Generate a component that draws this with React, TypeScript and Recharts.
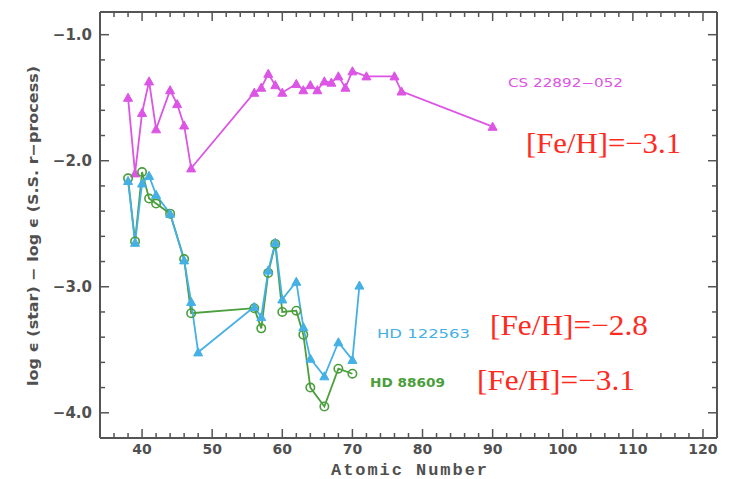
import React from 'react';
import { LineChart, Line, XAxis, YAxis } from 'recharts';

// CS 22892-052
const csZ = [38, 39, 40, 41, 42, 44, 45, 46, 47, 56, 57, 58, 59, 60, 62, 63, 64, 65, 66, 67, 68, 69, 70, 72, 76, 77, 90];
const csVal = [-1.50, -2.10, -1.62, -1.37, -1.75, -1.44, -1.55, -1.72, -2.06, -1.46, -1.42, -1.31, -1.40, -1.46, -1.39, -1.44, -1.40, -1.44, -1.37, -1.38, -1.33, -1.42, -1.29, -1.33, -1.33, -1.45, -1.73];

// HD 122563
const hd122Z = [38, 39, 40, 41, 42, 44, 46, 47, 48, 56, 57, 58, 59, 60, 62, 63, 64, 66, 68, 70, 71];
const hd122Val = [-2.16, -2.65, -2.18, -2.12, -2.27, -2.42, -2.79, -3.12, -3.52, -3.16, -3.24, -2.87, -2.65, -3.10, -2.96, -3.32, -3.57, -3.71, -3.44, -3.58, -2.99];

// HD 88609
const hd886Z = [38, 39, 40, 41, 42, 44, 46, 47, 56, 57, 58, 59, 60, 62, 63, 64, 66, 68, 70];
const hd886Val = [-2.14, -2.64, -2.09, -2.30, -2.34, -2.42, -2.78, -3.21, -3.17, -3.33, -2.89, -2.66, -3.20, -3.19, -3.38, -3.80, -3.95, -3.65, -3.69];

const xTicks = [36, 38, 40, 42, 44, 46, 48, 50, 52, 54, 56, 58, 60, 62, 64, 66, 68, 70, 72, 74, 76, 78, 80, 82, 84, 86, 88, 90, 92, 94, 96, 98, 100, 102, 104, 106, 108, 110, 112, 114, 116, 118, 120];
const xMajor = [40, 50, 60, 70, 80, 90, 100, 110, 120];
const yTicks = [-4.0, -3.8, -3.6, -3.4, -3.2, -3.0, -2.8, -2.6, -2.4, -2.2, -2.0, -1.8, -1.6, -1.4, -1.2, -1.0];
const yMajor = [-4.0, -3.0, -2.0, -1.0];
const yMajorLabels = ['\u22124.0', '\u22123.0', '\u22122.0', '\u22121.0'];

const toRows = (zs: number[], vs: number[]) => zs.map((z, i) => ({ z, v: vs[i] }));
const csData = toRows(csZ, csVal);
const hd122Data = toRows(hd122Z, hd122Val);
const hd886Data = toRows(hd886Z, hd886Val);

const MAGENTA = '#dc55e4';
const BLUE = '#45b0e6';
const GREEN = '#4a9e3c';
const RED = '#ff2a1e';
const AXIS = '#555';
const LABEL = '#505050';
const tickFont = 'DejaVu Sans, sans-serif';

const isMajorX = (v: number) => xMajor.some((m) => Math.abs(m - v) < 1e-6);
const majorYIndex = (v: number) => yMajor.findIndex((m) => Math.abs(m - v) < 1e-6);

const BottomTick = (props: any) => {
  const { x, y, payload } = props;
  const major = isMajorX(payload.value);
  return (
    <g>
      <line x1={x} x2={x} y1={y} y2={y - (major ? 9 : 5)} stroke={AXIS} strokeWidth={1.5} />
      {major && (
        <text x={x} y={y + 16} textAnchor="middle" fontFamily={tickFont} fontWeight="bold" fontSize={14} fill={LABEL}>
          {payload.value}
        </text>
      )}
    </g>
  );
};
const TopTick = (props: any) => {
  const { x, y, payload } = props;
  const major = isMajorX(payload.value);
  return <line x1={x} x2={x} y1={y} y2={y + (major ? 9 : 5)} stroke={AXIS} strokeWidth={1.5} />;
};
const LeftTick = (props: any) => {
  const { x, y, payload } = props;
  const idx = majorYIndex(payload.value);
  return (
    <g>
      <line x1={x} x2={x + (idx >= 0 ? 9 : 5)} y1={y} y2={y} stroke={AXIS} strokeWidth={1.5} />
      {idx >= 0 && (
        <text x={x - 8} y={y + 5} textAnchor="end" fontFamily={tickFont} fontWeight="bold" fontSize={15} fill={LABEL}>
          {yMajorLabels[idx]}
        </text>
      )}
    </g>
  );
};
const RightTick = (props: any) => {
  const { x, y, payload } = props;
  const major = majorYIndex(payload.value) >= 0;
  return <line x1={x} x2={x - (major ? 9 : 5)} y1={y} y2={y} stroke={AXIS} strokeWidth={1.5} />;
};

const triangleDot = (color: string) => (props: any) => {
  const { cx, cy, index } = props;
  if (cx == null || cy == null) return <g key={index} />;
  const s = 4.5;
  return (
    <path
      key={index}
      d={`M${cx},${cy - s} L${cx + s},${cy + s * 0.8} L${cx - s},${cy + s * 0.8} Z`}
      fill={color}
      stroke={color}
      strokeWidth={1}
    />
  );
};
const circleDot = (color: string) => (props: any) => {
  const { cx, cy, index } = props;
  if (cx == null || cy == null) return <g key={index} />;
  return <circle key={index} cx={cx} cy={cy} r={4.2} fill="none" stroke={color} strokeWidth={1.6} />;
};

export default function App() {
  return (
    <div style={{ position: 'absolute', left: 0, top: 0, width: 735, height: 479, background: '#fff' }}>
      <LineChart width={735} height={479} margin={{ top: 11, right: 17, bottom: 0, left: 0 }}>
        <XAxis
          type="number"
          dataKey="z"
          domain={[34, 122]}
          ticks={xTicks}
          interval={0}
          height={41}
          tickSize={0}
          tickMargin={0}
          axisLine={{ stroke: AXIS, strokeWidth: 2 }}
          tickLine={false}
          tick={BottomTick}
          allowDataOverflow
        />
        <XAxis
          xAxisId="top"
          orientation="top"
          type="number"
          dataKey="z"
          domain={[34, 122]}
          ticks={xTicks}
          interval={0}
          height={1}
          tickSize={0}
          tickMargin={0}
          axisLine={{ stroke: AXIS, strokeWidth: 2 }}
          tickLine={false}
          tick={TopTick}
          allowDataOverflow
        />
        <YAxis
          type="number"
          domain={[-4.2, -0.82]}
          ticks={yTicks}
          interval={0}
          width={100}
          tickSize={0}
          tickMargin={0}
          axisLine={{ stroke: AXIS, strokeWidth: 2 }}
          tickLine={false}
          tick={LeftTick}
          allowDataOverflow
        />
        <YAxis
          yAxisId="right"
          orientation="right"
          type="number"
          domain={[-4.2, -0.82]}
          ticks={yTicks}
          interval={0}
          width={1}
          tickSize={0}
          tickMargin={0}
          axisLine={{ stroke: AXIS, strokeWidth: 2 }}
          tickLine={false}
          tick={RightTick}
          allowDataOverflow
        />
        <Line
          xAxisId="top"
          yAxisId="right"
          data={csData}
          dataKey="v"
          stroke="none"
          dot={false}
          activeDot={false}
          legendType="none"
          isAnimationActive={false}
        />
        <Line
          data={csData}
          dataKey="v"
          stroke={MAGENTA}
          strokeWidth={1.8}
          dot={triangleDot(MAGENTA)}
          isAnimationActive={false}
        />
        <Line
          data={hd886Data}
          dataKey="v"
          stroke={GREEN}
          strokeWidth={1.8}
          dot={circleDot(GREEN)}
          isAnimationActive={false}
        />
        <Line
          data={hd122Data}
          dataKey="v"
          stroke={BLUE}
          strokeWidth={1.8}
          dot={triangleDot(BLUE)}
          isAnimationActive={false}
        />
      </LineChart>
      <svg width={735} height={479} style={{ position: 'absolute', left: 0, top: 0, pointerEvents: 'none' }}>
        <text
          transform="translate(38,226) rotate(-90)"
          textAnchor="middle"
          fontFamily={tickFont}
          fontWeight="bold"
          fontSize={14}
          fill={LABEL}
          textLength={320}
          lengthAdjust="spacingAndGlyphs"
        >
          log ϵ (star) − log ϵ (S.S. r−process)
        </text>
        <text x={409} y={475} textAnchor="middle" fontFamily="Liberation Mono, monospace" fontWeight="bold" fontSize={17} fill={LABEL} textLength={156}>
          Atomic Number
        </text>
        <text x={508} y={87} fontFamily={tickFont} fontSize={12} fill={MAGENTA} textLength={115} lengthAdjust="spacingAndGlyphs">
          CS 22892−052
        </text>
        <text x={377} y={338} fontFamily={tickFont} fontSize={13} fill={BLUE} textLength={93} lengthAdjust="spacingAndGlyphs">
          HD 122563
        </text>
        <text x={370} y={387} fontFamily={tickFont} fontWeight="bold" fontSize={13} fill={GREEN} textLength={75} lengthAdjust="spacingAndGlyphs">
          HD 88609
        </text>
        <text x={526} y={153} fontFamily="Liberation Serif, serif" fontSize={29} fill={RED} textLength={155} lengthAdjust="spacingAndGlyphs">
          [Fe/H]=−3.1
        </text>
        <text x={490} y={335} fontFamily="Liberation Serif, serif" fontSize={29} fill={RED} textLength={158} lengthAdjust="spacingAndGlyphs">
          [Fe/H]=−2.8
        </text>
        <text x={477} y={390} fontFamily="Liberation Serif, serif" fontSize={29} fill={RED} textLength={158} lengthAdjust="spacingAndGlyphs">
          [Fe/H]=−3.1
        </text>
      </svg>
    </div>
  );
}
